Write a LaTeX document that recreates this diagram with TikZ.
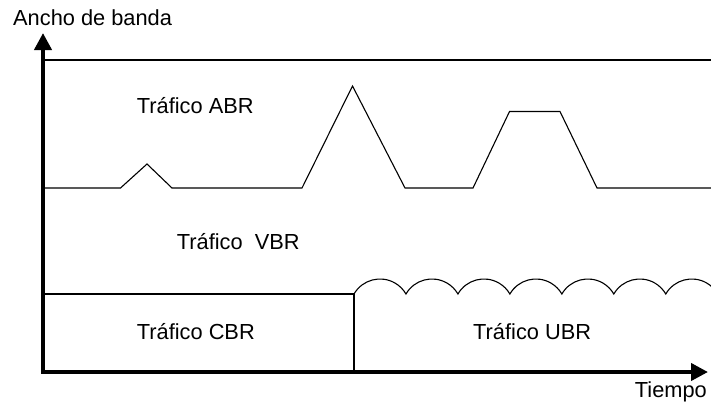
\documentclass[tikz,border=0pt]{standalone}
\usepackage{fontspec}
\setmainfont{Liberation Sans}
\usetikzlibrary{arrows.meta}
\tikzset{
  lbl/.style={inner sep=0pt, font=\fontsize{21.8}{26}\selectfont},
  axis/.style={line width=4pt, -{Triangle[length=17pt,width=17pt]}},
  thin/.style={line width=1.1pt, line join=miter},
  scal/.style={start angle=210,end angle=330,radius=30},
}
\begin{document}
\begin{tikzpicture}[x=1pt,y=-1pt]
\useasboundingbox (0,0) rectangle (711,405);
% axes
\coordinate (O) at (43,372);
\coordinate (ytip) at (43,33);
\coordinate (xtip) at (708,372);
\draw[axis] (O) -- (ytip);
\draw[axis] ([xshift=-2pt]O) -- (xtip);
% top line
\coordinate (topL) at (45,60);
\coordinate (topR) at (711,60);
\draw[thin] (topL) -- (topR);
% ABR curve
\draw[thin] (45,188) -- (120.5,188) -- (147,164) -- (172,188) -- (302,188) -- (352.5,86) -- (405,188)
  -- (473,188) -- (509.5,111.5) -- (560,111.5) -- (597,188) -- (711,188);
% CBR / VBR boundary
\coordinate (cbrL) at (45,294);
\coordinate (cbrR) at (354,294);
\coordinate (cbrB) at (354,370);
\draw[thin] (cbrL) -- (cbrR) -- (cbrB);
% UBR scallops
\begin{scope}
\clip (354,250) rectangle (711,300);
\draw[thin] (cbrR) arc[scal] arc[scal] arc[scal] arc[scal] arc[scal] arc[scal] arc[scal];
\end{scope}
% labels
\node[lbl, anchor=base west] (ylab) at (13,25) {Ancho de banda};
\node[lbl, anchor=base east] (xlab) at (707,397) {Tiempo};
\node[lbl, anchor=base west] (abr) at (136.7,113.3) {Tráfico ABR};
\node[lbl, anchor=base west] (vbr) at (176.7,249) {Tráfico\ \ VBR};
\node[lbl, anchor=base west] (cbr) at (136.7,339) {Tráfico CBR};
\node[lbl, anchor=base west] (ubr) at (473,339) {Tráfico UBR};
\end{tikzpicture}
\end{document}
